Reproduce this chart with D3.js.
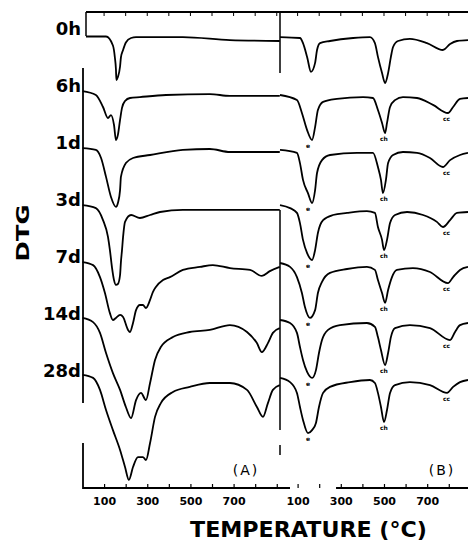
<!DOCTYPE html>
<html>
<head>
<meta charset="utf-8">
<script src="https://cdn.jsdelivr.net/npm/d3@7"></script>
<style>
  body { margin: 0; background: #fff; }
  text { font-family: "DejaVu Sans", sans-serif; fill: #000; }
</style>
</head>
<body>
<div id="chart"></div>
<script>
// samples (curing time) and their vertical offsets in DTG units
const samples = ["0h", "6h", "1d", "3d", "7d", "14d", "28d"];
const offsets = [0, -19, -38, -57, -76, -95, -114];

// panel A : [temperature °C, DTG relative to the curve's baseline]
const a0h = [[16,-0.5],[109,-0.5],[141,-3.5],[150,-7.5],[155,-11.5],[157,-15],[164,-14],[174,-10.5],[178,-7.5],[188,-5],[201,-2.5],[225,-1],[248,-0.7],[465,-0.7],[683,-1.7],[914,-2]];
const a6h = [[0,0.3],[62,-1],[95,-5],[118,-8.7],[132,-7.7],[146,-11],[155,-16],[164,-14.3],[174,-9.3],[183,-5.3],[197,-3],[220,-2],[266,-1.7],[387,-1],[590,-0.7],[683,-1.3],[914,-1.3]];
const a1d = [[0,0.3],[62,-0.3],[86,-3],[109,-9.3],[132,-16],[155,-19.3],[164,-18],[174,-13.7],[178,-9.3],[201,-4.7],[234,-3],[313,-2],[465,-0.3],[590,0],[683,-1],[914,-1]];
const a3d = [[0,0.3],[62,-0.7],[95,-4.7],[118,-10.3],[127,-14.7],[137,-20.7],[146,-24.7],[155,-26.3],[164,-26],[174,-23],[178,-18.7],[183,-14.7],[188,-10.3],[197,-5.3],[225,-3],[266,-4],[313,-3],[359,-2],[465,-1.3],[683,-1.3],[914,-1.3]];
const a7d = [[0,0.3],[49,-0.7],[81,-4.7],[104,-10],[127,-16.7],[141,-19],[155,-18.3],[174,-17.3],[188,-18],[211,-22.3],[220,-23],[234,-20],[248,-15.7],[266,-14],[280,-14],[294,-15],[313,-12.3],[326,-9.7],[340,-8],[373,-5.7],[405,-4.7],[465,-2.3],[544,-1.3],[604,-0.7],[683,-1.7],[776,-2.3],[831,-4.3],[868,-2.7],[914,-1.3]];
const a14d = [[0,0.7],[49,-0.7],[81,-4.3],[109,-11],[141,-17.7],[174,-23.3],[201,-29],[225,-32.7],[248,-26.7],[271,-24.3],[294,-26.7],[313,-21],[336,-13.3],[363,-9],[419,-5.7],[497,-4],[590,-3.3],[683,-1.7],[762,-4],[808,-7.7],[831,-10.7],[859,-7.7],[882,-4.3],[914,-2.7]];
const a28d = [[0,0.7],[49,-0.3],[81,-4.3],[109,-11],[141,-17.7],[174,-24.3],[197,-30],[215,-34.3],[234,-30],[257,-26.7],[280,-26.7],[294,-27.7],[313,-22],[336,-13.3],[363,-8.7],[419,-5],[497,-3.3],[590,-2],[683,-2],[762,-4.3],[808,-10],[836,-13.3],[859,-8.7],[882,-4.3],[914,-2.7]];

// panel B
const b0h = [[18.5,-0.7],[111,-1],[125,-2.7],[144,-7.3],[162,-12.3],[181,-9.3],[190,-5],[204,-2.7],[250,-2],[357,-1],[435,-0.7],[458,-2.7],[472,-7.3],[491,-12.7],[505,-16],[519,-12.7],[532,-7.3],[542,-4],[565,-2],[620,-1.3],[699,-2.7],[773,-5],[806,-3],[838,-2],[889,-1.7]];
const b6h = [[18.5,-1],[97,-2.7],[120,-7],[144,-12.7],[167,-16],[181,-11.7],[194,-6],[218,-3.3],[282,-2.3],[403,-1.7],[449,-2],[472,-6],[491,-10.3],[505,-13.7],[514,-10.3],[528,-5],[551,-2.7],[588,-1.7],[653,-2],[727,-4.3],[796,-7],[820,-5],[852,-2.3],[889,-2]];
const b1d = [[18.5,-0.3],[97,-1.3],[111,-4.7],[125,-10.3],[148,-14.7],[167,-18],[181,-13.7],[190,-8],[213,-3.7],[250,-2],[375,-1.3],[449,-1.3],[472,-6],[486,-10.3],[495,-14.7],[509,-10.3],[519,-4.7],[542,-2],[588,-1],[653,-1.3],[713,-3],[773,-6],[806,-3.7],[852,-2],[889,-1.3]];
const b3d = [[18.5,0.3],[65,-0.7],[97,-2.3],[111,-5.7],[125,-11.3],[144,-15.7],[167,-18],[181,-14.7],[194,-9],[218,-4.7],[264,-3],[329,-2.3],[421,-1.7],[458,-2.3],[472,-7],[491,-11.3],[500,-14.7],[514,-11.3],[528,-5.7],[551,-3],[607,-2],[681,-3],[745,-5.3],[773,-7],[806,-4.7],[838,-2.3],[889,-2]];
const b7d = [[18.5,0],[65,-1.3],[97,-4.7],[120,-10],[134,-14.7],[157,-18.3],[181,-15.7],[194,-10],[213,-6.3],[250,-3.3],[329,-2],[421,-1.3],[458,-2.3],[472,-5.7],[491,-10],[505,-13.3],[519,-9],[537,-4.7],[560,-2.3],[634,-1.7],[713,-3],[796,-6.7],[820,-4.7],[852,-2.3],[889,-1.3]];
const b14d = [[18.5,0],[65,-1],[97,-4.3],[111,-9],[125,-13.3],[144,-17.3],[167,-19.3],[185,-16.7],[199,-11],[213,-6.7],[241,-3.3],[296,-1.7],[421,-1],[458,-2.3],[472,-5.7],[486,-10],[505,-15],[519,-11],[532,-5.7],[551,-2.7],[620,-1.7],[713,-2.7],[806,-6.7],[829,-4],[852,-1.7],[889,-1]];
const b28d = [[18.5,-0.3],[65,-1.7],[97,-5.3],[111,-10],[125,-14.3],[148,-18.7],[167,-17.7],[185,-15.3],[199,-10],[218,-5.3],[250,-3.3],[343,-1.7],[435,-1],[458,-2],[472,-5.3],[486,-10],[500,-15],[514,-11],[528,-5.3],[551,-2.7],[620,-1.7],[713,-2.7],[792,-5.3],[820,-3.3],[852,-1.7],[889,-1]];

const curvesA = [a0h, a6h, a1d, a3d, a7d, a14d, a28d];
const curvesB = [b0h, b6h, b1d, b3d, b7d, b14d, b28d];

const tickTemps = [100, 200, 300, 400, 500, 600, 700, 800, 900];
const tickLabels = [100, 300, 500, 700];

// small peak marks below the dips in panel B: [temperature, text]
const marksB = [[167, "e"], [500, "ch"], [790, "cc"]];

const W = 468, H = 547;
const svg = d3.select("#chart").append("svg")
    .attr("width", W)
    .attr("height", H);

const xA = d3.scaleLinear().domain([0, 915]).range([82.5, 280]);
const xB = d3.scaleLinear().domain([0, 889]).range([276, 468]);
const y = d3.scaleLinear().domain([0, -114]).range([35, 377]);

const axisY = 488;

function drawCurves(curves, x) {
  curves.forEach((pts, i) => {
    const line = d3.line()
      .x(d => x(d[0]))
      .y(d => y(offsets[i] + d[1]))
      .curve(d3.curveMonotoneX);
    svg.append("path")
      .datum(pts)
      .attr("fill", "none")
      .attr("stroke", "#000")
      .attr("stroke-width", 1.8)
      .attr("stroke-linejoin", "round")
      .attr("d", line);
  });
}
drawCurves(curvesA, xA);
drawCurves(curvesB, xB);

// peak marks
curvesB.forEach((pts, i) => {
  if (i === 0) return;
  marksB.forEach(m => {
    const near = pts.filter(p => Math.abs(p[0] - m[0]) < 40);
    const lo = d3.min(near, p => p[1]);
    svg.append("text")
      .attr("x", xB(m[0]) + (m[1] === "e" ? -4 : 0))
      .attr("y", y(offsets[i] + lo) + 8)
      .attr("text-anchor", "middle")
      .style("font-size", "6px")
      .style("font-weight", "bold")
      .text(m[1]);
  });
});

// frame
const frame = svg.append("g").attr("stroke", "#000").attr("fill", "none");
frame.append("line").attr("x1", 86).attr("x2", W).attr("y1", 12).attr("y2", 12).attr("stroke-width", 2);
frame.append("line").attr("x1", 86).attr("x2", 86).attr("y1", 12).attr("y2", 36).attr("stroke-width", 1.5);
[[68, 403], [443, 489]].forEach(s =>
  frame.append("line").attr("x1", 83).attr("x2", 83).attr("y1", s[0]).attr("y2", s[1]).attr("stroke-width", 1.8));
[[12, 73], [210, 430], [445, 455]].forEach(s =>
  frame.append("line").attr("x1", xA(915)).attr("x2", xA(915)).attr("y1", s[0]).attr("y2", s[1]).attr("stroke-width", 1.5));

// top ticks
tickTemps.forEach(t => {
  frame.append("line").attr("x1", xA(t)).attr("x2", xA(t)).attr("y1", 12).attr("y2", 16).attr("stroke-width", 1);
  if (t < 889) frame.append("line").attr("x1", xB(t)).attr("x2", xB(t)).attr("y1", 12).attr("y2", 16).attr("stroke-width", 1);
});

// bottom axes
function bottomAxis(x, maxT) {
  const g = svg.append("g")
    .attr("transform", `translate(0,${axisY})`)
    .call(d3.axisBottom(x)
      .tickValues(tickTemps.filter(t => t <= maxT))
      .tickSizeInner(-4)
      .tickSizeOuter(0)
      .tickPadding(9)
      .tickFormat(t => tickLabels.includes(t) ? t : ""));
  g.select(".domain").remove();
  g.selectAll(".tick line").attr("stroke-width", 1.2);
  g.selectAll("text")
    .style("font-family", "'DejaVu Sans', sans-serif")
    .style("font-size", "11px")
    .style("font-weight", "bold");
  return g;
}
bottomAxis(xA, 900);
bottomAxis(xB, 850);
frame.append("line").attr("x1", 83).attr("x2", 290).attr("y1", axisY).attr("y2", axisY).attr("stroke-width", 2);
frame.append("line").attr("x1", xB(278)).attr("x2", W).attr("y1", axisY).attr("y2", axisY).attr("stroke-width", 2);

// sample labels
samples.forEach((s, i) => {
  svg.append("text")
    .attr("x", 81)
    .attr("y", y(offsets[i]))
    .attr("text-anchor", "end")
    .style("font-size", "18px")
    .style("font-weight", "bold")
    .text(s);
});

// panel letters
svg.append("text").attr("x", 246).attr("y", 475).attr("text-anchor", "middle")
  .style("font-size", "14px").style("letter-spacing", "2px").text("(A)");
svg.append("text").attr("x", 442).attr("y", 475).attr("text-anchor", "middle")
  .style("font-size", "14px").style("letter-spacing", "2px").text("(B)");

// axis titles
svg.append("text")
  .attr("x", 190).attr("y", 537)
  .attr("textLength", 237)
  .attr("lengthAdjust", "spacingAndGlyphs")
  .style("font-size", "21px")
  .style("font-weight", "bold")
  .text("TEMPERATURE (°C)");

svg.append("text")
  .attr("transform", "translate(29,233) rotate(-90)")
  .attr("text-anchor", "middle")
  .attr("textLength", 57)
  .attr("lengthAdjust", "spacingAndGlyphs")
  .style("font-size", "18px")
  .style("font-weight", "bold")
  .text("DTG");
</script>
</body>
</html>
